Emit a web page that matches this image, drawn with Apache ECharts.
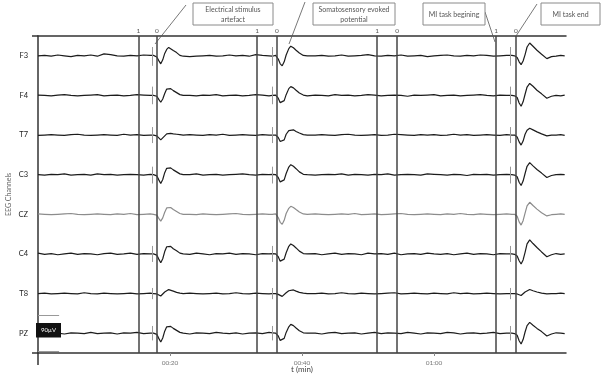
<!DOCTYPE html>
<html><head><meta charset="utf-8">
<script src="https://cdn.jsdelivr.net/npm/echarts@6/dist/echarts.min.js"></script>
<style>html,body{margin:0;padding:0;background:#fff}#c{width:602px;height:375px}#err{position:absolute;left:0;top:0;font:9px monospace;color:red;white-space:pre-wrap;width:600px}</style>
</head><body><div id="c"></div><div id="err"></div>
<script>
// ---- data ----
const channels = ['F3', 'F4', 'T7', 'C3', 'CZ', 'C4', 'T8', 'PZ'];

// sample times (s)
const times = [
  0,1,2,3,4,5,6,7,8,9,10,11,12,13,14,15,16,17,
  17.5,18,18.3,18.6,18.9,19.2,19.5,19.8,20.1,20.5,21,21.5,22,
  23,24,25,26,27,28,29,30,31,32,33,34,35,
  35.5,36,36.4,36.7,37,37.3,37.6,38,38.3,38.7,39.1,39.6,40.2,40.8,
  42,43,44,45,46,47,48,49,50,51,52,53,54,55,56,57,58,59,60,61,62,63,64,65,66,67,68,69,70,71,
  71.8,72.2,72.6,72.9,73.2,73.5,73.8,74.1,74.5,75,75.6,76.3,77.1,77.8,
  78.5,79.2,79.8
];

// amplitudes (µV)
const F3 = [
  0,1,-1,2,0,-2,1,0,2,-1,5,3,0,-1,1,0,2,1,
  1,-3,-12,-20,-10,6,16,21,17,13,8,1,-1,
  -2,-1,0,1,-1,0,2,0,1,-1,3,1,0,
  -1,1,-8,-20,-25,-15,2,18,24,20,14,7,1,0,
  0,1,-1,0,2,-1,0,1,3,0,-1,1,0,2,-1,0,1,-2,0,1,2,0,-1,1,0,2,1,-1,0,1,
  1,0,-4,-15,-22,-13,3,22,32,24,14,4,-7,-2,
  -1,1,0
];
const F4 = [
  1,0,-1,1,2,0,-1,0,1,2,-1,0,1,-1,0,2,1,0,
  0,-2,-10,-17,-9,5,16,20,17,12,7,2,0,
  0,-1,1,0,2,-1,0,1,-1,0,2,1,-1,
  0,1,-7,-18,-22,-13,2,17,22,19,13,6,1,-1,
  1,0,-1,2,0,1,-1,0,2,1,-1,0,1,0,-2,1,0,1,2,-1,0,1,-1,0,1,2,0,-1,1,0,
  0,-1,-5,-19,-27,-16,3,21,30,23,13,4,-7,-2,
  0,-1,1
];
const T7 = [
  -1,0,1,0,-1,1,2,0,-1,0,1,0,-1,2,0,1,-1,0,
  0,-2,-7,-12,-8,-2,3,5,4,3,2,1,0,
  1,0,-1,1,0,2,-1,0,1,0,-1,1,0,
  0,0,-6,-16,-20,-12,2,11,15,13,9,5,1,0,
  0,1,0,-1,1,2,0,-1,0,1,-1,0,2,1,0,-1,1,0,1,-1,0,2,0,1,-1,0,1,0,-1,1,
  0,0,-5,-17,-25,-15,2,12,17,13,8,3,-2,0,
  0,1,-1
];
const C3 = [
  0,-1,1,0,2,-1,0,1,-1,2,0,1,-1,0,1,0,-1,1,
  0,-3,-13,-22,-12,5,16,20,17,12,7,2,0,
  0,2,-1,0,1,-1,0,1,2,0,-1,1,0,
  1,0,-7,-18,-22,-13,3,19,25,21,15,7,1,0,
  -1,0,1,0,2,-1,1,0,-1,1,0,2,-1,0,1,0,-1,2,1,0,-1,1,0,-2,1,0,1,-1,0,1,
  0,-1,-5,-19,-27,-16,3,21,30,22,13,4,-7,-2,
  0,1,0
];
const CZ = [
  1,0,-1,0,1,2,0,-1,0,1,0,-1,1,0,2,-1,0,1,
  0,-2,-10,-17,-9,5,16,20,17,12,7,2,0,
  0,-1,1,0,-1,0,1,2,0,-1,0,1,0,
  0,1,-8,-20,-25,-15,2,15,20,17,12,6,1,0,
  1,0,-1,0,1,0,2,-1,0,1,-1,0,1,2,0,-1,0,1,0,-1,1,0,2,0,-1,1,0,-1,0,1,
  0,0,-5,-19,-27,-16,3,21,30,22,13,4,-4,-1,
  0,1,0
];
const C4 = [
  2,-1,1,-2,0,2,-1,1,0,-2,1,2,-1,0,2,-1,1,0,
  0,-3,-13,-22,-12,6,18,22,19,13,8,2,0,
  -1,2,0,-2,1,0,2,-1,1,0,-2,1,0,
  1,0,-7,-18,-22,-13,3,19,25,21,15,7,1,0,
  1,-2,0,2,-1,1,0,-2,2,0,1,-1,2,-2,0,1,-1,2,0,-1,1,-2,0,2,-1,1,0,-2,1,0,
  0,-1,-5,-17,-25,-15,4,25,35,26,16,5,-7,-2,
  1,-1,0
];
const T8 = [
  0,1,-1,0,1,0,-1,2,0,-1,1,0,-1,0,1,-1,0,1,
  0,-1,-4,-6,-2,4,8,10,8,6,3,1,0,
  1,0,-1,0,1,-1,0,2,0,-1,1,0,-1,
  0,0,-2,-6,-7,-3,2,7,10,9,6,3,1,0,
  0,1,-1,0,2,0,-1,1,0,-1,0,1,2,-1,0,1,0,-1,1,0,-1,2,0,1,-1,0,1,0,-1,0,
  0,0,-1,-4,-5,-1,4,8,10,7,4,1,-1,0,
  0,1,0
];
const PZ = [
  1,-1,2,0,-2,1,0,-1,2,-1,0,1,-2,1,0,2,-1,0,
  0,-3,-13,-22,-12,5,16,20,17,12,7,2,0,
  -2,1,0,-1,2,0,-1,1,-2,0,1,-1,2,
  1,0,-7,-18,-22,-13,2,16,22,19,13,6,1,0,
  0,-2,1,2,-1,0,1,-2,0,2,-1,1,0,-1,2,0,-2,1,0,-1,2,1,-2,0,1,-1,0,2,-1,0,
  0,-1,-5,-19,-27,-16,3,19,27,20,12,4,-7,-2,
  1,0,-1
];
const channelValues = [F3, F4, T7, C3, CZ, C4, T8, PZ];

// event markers (s) and their top labels
const markerTimes = [15.2, 18.0, 33.2, 36.2, 51.4, 54.4, 69.4, 72.4];
const markerLabels = ['1', '0', '1', '0', '1', '0', '1', '0'];

// stimulus artefacts (s) and their extent per channel (µV)
const artifactTimes = [17.27, 35.45, 71.5];
const artifactUp = [22, 22, 20, 20, 60, 20, 14, 18];
const artifactDown = [25, 22, 20, 22, 18, 20, 14, 18];

// time axis
const xTickValues = [20, 40, 60];
const xTickLabels = ['00:20', '00:40', '01:00'];

// amplitude scale bar
const scaleBarUV = 90;
const scaleBarLabel = '90µV';

// annotations
const annotationTexts = ['Electrical stimulus\nartefact', 'Somatosensory evoked\npotential', 'MI task begining', 'MI task end'];

// ---- chart ----
try {
const FONT = 'Lato, "Open Sans", sans-serif';
const L = 38, R = 36, T = 36, B = 22, H = 375;
const plotH = H - T - B;
const rowH = plotH / channels.length;
const yHalf = 49.5;

const grids = [{ left: L, right: R, top: T, bottom: B, outerBoundsMode: 'none', containLabel: false }];
const xAxes = [
  { gridIndex: 0, type: 'value', min: 0, max: 80, interval: 20, position: 'bottom',
    axisLine: { show: true, lineStyle: { color: '#333', width: 1.5 } },
    axisTick: { show: true, length: 3, lineStyle: { color: '#888' } },
    splitLine: { show: false },
    axisLabel: { showMinLabel: false, showMaxLabel: false, fontSize: 6.5, color: '#777', margin: 6, fontFamily: FONT,
      formatter: function (v) { const k = xTickValues.indexOf(v); return k >= 0 ? xTickLabels[k] : ''; } },
    name: 't (min)', nameLocation: 'middle', nameGap: 12, nameMoveOverlap: false,
    nameTextStyle: { fontSize: 8, color: '#444', fontFamily: FONT } },
  { gridIndex: 0, type: 'value', min: 0, max: 80, position: 'top',
    axisLine: { show: true, lineStyle: { color: '#333', width: 1.5 } },
    axisTick: { show: false }, axisLabel: { show: false }, splitLine: { show: false } }
];
const yAxes = [
  { gridIndex: 0, type: 'category', data: channels, inverse: true,
    axisLine: { show: true, lineStyle: { color: '#333', width: 1.5 } },
    axisTick: { show: false }, splitLine: { show: false },
    axisLabel: { fontSize: 7.5, color: '#222', margin: 10, fontFamily: FONT },
    name: 'EEG Channels', nameLocation: 'middle', nameGap: 26, nameRotate: 90, nameMoveOverlap: false,
    nameTextStyle: { fontSize: 7, color: '#666', fontFamily: FONT } },
  { gridIndex: 0, type: 'value', min: 0, max: 1, show: false }
];

// event marker lines, drawn on the hidden 0..1 axis of the main grid
const series = [{
  type: 'line', xAxisIndex: 0, yAxisIndex: 1, data: [], silent: true,
  markLine: {
    symbol: 'none', silent: true, animation: false,
    lineStyle: { color: '#444', width: 1.5, type: 'solid' },
    label: { show: true, position: 'end', distance: 2, fontSize: 6.5, color: '#555', fontFamily: FONT },
    data: markerTimes.map(function (t, i) {
      return [{ coord: [t, 0] }, { coord: [t, 1], label: { formatter: markerLabels[i] } }];
    })
  }
}];

channels.forEach(function (name, i) {
  grids.push({ left: L, right: R, top: T + i * rowH, height: rowH, outerBoundsMode: 'none', containLabel: false });
  const gi = grids.length - 1;
  xAxes.push({ gridIndex: gi, type: 'value', min: 0, max: 80, show: false });
  yAxes.push({ gridIndex: gi, type: 'value', min: -yHalf, max: yHalf, show: false });
  const color = name === 'CZ' ? '#8c8c8c' : '#1c1c1c';
  const mlData = artifactTimes.map(function (t) {
    return [{ coord: [t, artifactUp[i]] }, { coord: [t, -artifactDown[i]] }];
  });
  if (name === 'PZ') {
    mlData.push([{ coord: [0, scaleBarUV / 2], lineStyle: { color: '#999', width: 1 } }, { coord: [3.2, scaleBarUV / 2] }]);
    mlData.push([{ coord: [0, -scaleBarUV / 2], lineStyle: { color: '#999', width: 1 } }, { coord: [3.2, -scaleBarUV / 2] }]);
  }
  series.push({
    type: 'line', name: name, xAxisIndex: xAxes.length - 1, yAxisIndex: yAxes.length - 1,
    data: times.map(function (t, k) { return [t, channelValues[i][k]]; }),
    showSymbol: false, symbol: 'none', silent: true,
    lineStyle: { color: color, width: 1.2 },
    markLine: {
      symbol: 'none', silent: true, animation: false,
      lineStyle: { color: '#9a9a9a', width: 1, type: 'solid' },
      label: { show: false },
      data: mlData
    }
  });
});

// annotation boxes with leader lines
const boxes = [
  { x: 193, y: 3, w: 80, h: 22, lx1: 186, ly1: 5, lx2: 155, ly2: 44 },
  { x: 313, y: 3, w: 82, h: 22, lx1: 305, ly1: 2, lx2: 289, ly2: 44 },
  { x: 423, y: 3, w: 62, h: 22, lx1: 485, ly1: 12, lx2: 495, ly2: 42 },
  { x: 541, y: 3, w: 59, h: 22, lx1: 537, ly1: 4, lx2: 516, ly2: 36 }
];
const graphic = [];
boxes.forEach(function (b, i) {
  graphic.push({ type: 'line', z: 100, shape: { x1: b.lx1, y1: b.ly1, x2: b.lx2, y2: b.ly2 }, style: { stroke: '#555', lineWidth: 0.8 } });
  graphic.push({ type: 'rect', z: 100, shape: { x: b.x, y: b.y, width: b.w, height: b.h }, style: { fill: '#fff', stroke: '#8a8a8a', lineWidth: 1 } });
  graphic.push({ type: 'text', z: 101, style: { text: annotationTexts[i], x: b.x + b.w / 2, y: b.y + b.h / 2 + 0.5, align: 'center', verticalAlign: 'middle', fontSize: 7, lineHeight: 10, fontFamily: FONT, fill: '#555' } });
});
// axis line extensions
graphic.push({ type: 'line', z: 100, shape: { x1: 32, y1: T, x2: L, y2: T }, style: { stroke: '#333', lineWidth: 1.5 } });
graphic.push({ type: 'line', z: 100, shape: { x1: 32, y1: H - B, x2: L, y2: H - B }, style: { stroke: '#333', lineWidth: 1.5 } });
graphic.push({ type: 'line', z: 100, shape: { x1: L, y1: H - B, x2: L, y2: H - B + 12 }, style: { stroke: '#333', lineWidth: 1.5 } });
// scale box
graphic.push({ type: 'rect', z: 110, shape: { x: 36, y: 323, width: 25, height: 14.5 }, style: { fill: '#111' } });
graphic.push({ type: 'text', z: 111, style: { text: scaleBarLabel, x: 48.5, y: 330.5, align: 'center', verticalAlign: 'middle', fontSize: 6, fontFamily: FONT, fill: '#fff' } });

const chart = echarts.init(document.getElementById('c'), null, { renderer: 'canvas' });
chart.setOption({
  animation: false,
  backgroundColor: '#fff',
  textStyle: { fontFamily: FONT },
  grid: grids, xAxis: xAxes, yAxis: yAxes, series: series, graphic: graphic
});
} catch (e) {
  document.getElementById('err').textContent = String(e) + '\n' + (e.stack || '');
}
</script></body></html>
